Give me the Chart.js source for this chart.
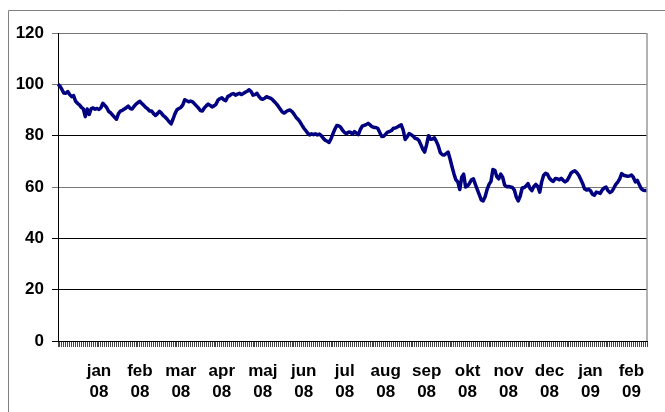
<!DOCTYPE html>
<html>
<head>
<meta charset="utf-8">
<script src="https://cdn.jsdelivr.net/npm/chart.js@4"></script>
<style>
  html, body { margin: 0; padding: 0; background: #fff; }
</style>
</head>
<body>
<canvas id="chart" width="665" height="412"></canvas>
<script>
// month labels under the axis, one every labelStep trading days
const monthLabels = ['jan','feb','mar','apr','maj','jun','jul','aug','sep','okt','nov','dec','jan','feb'];
const yearLabels  = ['08','08','08','08','08','08','08','08','08','08','08','08','09','09'];
const labelStep = 21;
const yTicks = [0, 20, 40, 60, 80, 100, 120];

// daily index values
const values = [
  100, 99.3, 98.0, 96.6, 96.5, 97.2, 96.0, 95.2, 95.6, 93.4,
  92.6, 92.0, 91.0, 90.4, 87.4, 90.4, 88.3, 90.5, 90.8, 90.3,
  90.6, 90.2, 90.9, 92.6, 91.8, 90.9, 89.4, 88.9, 88.0, 87.2,
  86.4, 88.6, 89.6, 89.9, 90.4, 90.9, 91.5, 90.6, 90.4, 91.4,
  92.3, 92.9, 93.4, 92.5, 91.8, 91.0, 90.4, 89.6, 89.6, 88.6,
  87.9, 88.6, 89.5, 88.8, 87.8, 87.2, 86.4, 85.4, 84.6, 86.5,
  88.6, 90.1, 90.6, 91.0, 92.0, 94.0, 93.6, 93.2, 93.5, 93.2,
  92.4, 91.6, 90.8, 89.8, 89.6, 90.8, 91.6, 92.3, 91.8, 91.2,
  91.6, 92.2, 93.8, 94.4, 94.8, 94.0, 93.6, 95.2, 95.6, 96.2,
  96.4, 95.8, 96.2, 96.5, 96.0, 96.4, 96.9, 97.3, 97.9, 97.2,
  95.8, 96.0, 96.5, 95.3, 94.4, 94.2, 94.6, 95.2, 94.8, 94.6,
  94.0, 93.2, 92.4, 91.4, 90.3, 89.2, 88.8, 89.4, 89.8, 90.0,
  89.4, 88.4, 87.2, 86.4, 85.5, 84.2, 83.0, 82.0, 81.0, 80.3,
  80.7, 80.4, 80.7, 80.3, 80.6, 80.0, 79.0, 78.2, 77.8, 77.4,
  78.8, 80.8, 82.6, 84.0, 83.8, 83.2, 82.0, 81.2, 80.8, 81.4,
  81.3, 80.6, 81.6, 81.0, 80.4, 82.4, 83.7, 84.0, 84.3, 84.8,
  84.2, 83.5, 83.2, 83.2, 82.8, 81.2, 79.7, 79.8, 80.6, 81.4,
  81.6, 82.0, 82.9, 83.0, 83.4, 83.8, 84.2, 82.2, 78.5, 79.5,
  80.8, 80.4, 79.9, 79.0, 78.8, 78.2, 76.6, 74.8, 73.6, 76.5,
  80.0, 78.6, 78.7, 79.2, 77.8, 76.0, 73.4, 72.6, 72.5, 73.0,
  73.6, 71.0, 68.0, 65.2, 62.8, 62.0, 59.0, 63.8, 65.0, 60.0,
  60.4, 61.5, 62.8, 63.2, 61.0, 59.0, 57.0, 55.0, 54.6, 56.2,
  59.0, 61.0, 62.2, 66.8, 66.5, 64.0, 63.2, 65.0, 63.8, 60.8,
  60.1, 60.2, 60.0, 59.8, 58.8, 56.0, 54.6, 56.5, 59.6, 59.8,
  60.4, 61.3, 59.5, 58.6, 60.2, 61.0, 60.2, 58.0, 62.0, 64.6,
  65.3, 64.9, 63.4, 62.6, 62.2, 63.3, 63.2, 62.8, 63.4, 62.6,
  62.0, 62.5, 63.8, 65.4, 66.0, 66.3, 65.6, 64.6, 63.0, 61.4,
  59.3, 58.8, 59.1, 58.6, 57.2, 56.8, 58.0, 57.8, 57.5, 58.8,
  59.6, 60.0, 58.6, 57.8, 58.3, 59.6, 61.0, 61.9, 63.2, 65.2,
  64.6, 64.4, 64.2, 64.3, 64.7, 63.8, 62.0, 62.6, 61.0, 59.4,
  58.8, 58.6, 58.6
];

const categories = values.map((v, i) => {
  const k = i / labelStep - 1;
  if (i > 0 && i % labelStep === 0 && k < monthLabels.length) return [monthLabels[k], yearLabels[k]];
  return '';
});

const font = { family: 'Arial, "Liberation Sans", sans-serif', size: 17, weight: 'bold', lineHeight: 1.28 };
const grayLines = [120, 100, 60];

const framePlugin = {
  id: 'frame',
  beforeDraw(chart) {
    const c = chart.ctx;
    c.save();
    c.fillStyle = '#fff';
    c.fillRect(0, 0, chart.width, chart.height);
    c.strokeStyle = '#808080';
    c.lineWidth = 1;
    c.beginPath();
    c.moveTo(8.5, chart.height);
    c.lineTo(8.5, 10.5);
    c.lineTo(chart.width, 10.5);
    c.stroke();
    c.restore();
  },
  afterDraw(chart) {
    const a = chart.chartArea, c = chart.ctx;
    c.save();
    c.strokeStyle = '#999';
    c.lineWidth = 1.5;
    c.beginPath();
    c.moveTo(a.right, a.top);
    c.lineTo(a.right, a.bottom);
    c.stroke();
    c.restore();
  }
};

new Chart(document.getElementById('chart'), {
  type: 'line',
  data: {
    labels: categories,
    datasets: [{
      data: values,
      borderColor: '#000080',
      borderWidth: 3.5,
      pointRadius: 0,
      tension: 0,
      fill: false,
      borderJoinStyle: 'round'
    }]
  },
  options: {
    responsive: false,
    animation: false,
    devicePixelRatio: 1,
    layout: { padding: { top: 33, right: 18, left: 0, bottom: 0 } },
    plugins: { legend: { display: false }, tooltip: { enabled: false } },
    scales: {
      x: {
        type: 'category',
        offset: false,
        grid: { drawOnChartArea: false, tickLength: 6, color: '#444', lineWidth: 1 },
        border: { color: '#000', width: 1 },
        ticks: { autoSkip: false, maxRotation: 0, minRotation: 0, font: font, color: '#000', padding: 13 },
        afterFit(s) { s.height = 71; }
      },
      y: {
        min: yTicks[0],
        max: yTicks[yTicks.length - 1],
        afterBuildTicks(s) { s.ticks = yTicks.map(v => ({ value: v })); },
        grid: {
          tickLength: 6,
          lineWidth: 1,
          color: ctx => grayLines.includes(ctx.tick && ctx.tick.value) ? '#777' : '#000'
        },
        border: { color: '#000', width: 1 },
        ticks: { font: font, color: '#000', padding: 8 },
        afterFit(s) { s.width = 58; }
      }
    }
  },
  plugins: [framePlugin]
});
</script>
</body>
</html>
